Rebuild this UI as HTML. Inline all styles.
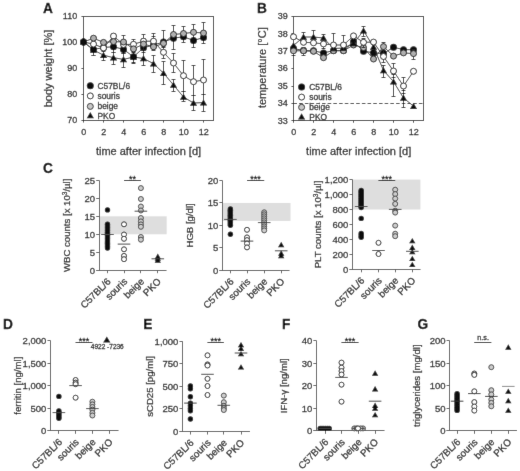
<!DOCTYPE html>
<html><head><meta charset="utf-8"><style>
html,body{margin:0;padding:0;background:#fff;}
svg{display:block;font-family:"Liberation Sans", sans-serif;}
text{stroke:#333;stroke-width:0.28px;paint-order:stroke;}
</style></head><body>
<svg width="520" height="471" viewBox="0 0 520 471">
<defs><filter id="bl" x="0" y="0" width="520" height="471" filterUnits="userSpaceOnUse"><feConvolveMatrix order="3" kernelMatrix="0.0052 0.0619 0.0052 0.0619 0.7314 0.0619 0.0052 0.0619 0.0052" edgeMode="duplicate"/></filter></defs>
<g filter="url(#bl)">
<rect width="520" height="471" fill="#fff"/>
<text transform="translate(43.00,12.80) scale(0.96,1)" font-size="14.3" font-weight="bold" fill="#000">A</text>
<rect x="83.5" y="16.5" width="130.0" height="104.0" fill="none" stroke="#333" stroke-width="1"/>
<line x1="81.50" y1="120.50" x2="83.50" y2="120.50" stroke="#333" stroke-width="1" />
<text x="77.20" y="123.30" font-size="9" text-anchor="end" font-weight="normal" fill="#222" >70</text>
<line x1="81.50" y1="94.50" x2="83.50" y2="94.50" stroke="#333" stroke-width="1" />
<text x="77.20" y="97.30" font-size="9" text-anchor="end" font-weight="normal" fill="#222" >80</text>
<line x1="81.50" y1="68.50" x2="83.50" y2="68.50" stroke="#333" stroke-width="1" />
<text x="77.20" y="71.30" font-size="9" text-anchor="end" font-weight="normal" fill="#222" >90</text>
<line x1="81.50" y1="42.50" x2="83.50" y2="42.50" stroke="#333" stroke-width="1" />
<text x="77.20" y="45.30" font-size="9" text-anchor="end" font-weight="normal" fill="#222" >100</text>
<line x1="81.50" y1="16.50" x2="83.50" y2="16.50" stroke="#333" stroke-width="1" />
<text x="77.20" y="19.30" font-size="9" text-anchor="end" font-weight="normal" fill="#222" >110</text>
<line x1="83.50" y1="120.50" x2="83.50" y2="122.50" stroke="#333" stroke-width="1" />
<line x1="103.50" y1="120.50" x2="103.50" y2="122.50" stroke="#333" stroke-width="1" />
<line x1="123.50" y1="120.50" x2="123.50" y2="122.50" stroke="#333" stroke-width="1" />
<line x1="143.50" y1="120.50" x2="143.50" y2="122.50" stroke="#333" stroke-width="1" />
<line x1="163.50" y1="120.50" x2="163.50" y2="122.50" stroke="#333" stroke-width="1" />
<line x1="183.50" y1="120.50" x2="183.50" y2="122.50" stroke="#333" stroke-width="1" />
<line x1="203.50" y1="120.50" x2="203.50" y2="122.50" stroke="#333" stroke-width="1" />
<text x="83.80" y="135.00" font-size="9" text-anchor="middle" font-weight="normal" fill="#222" >0</text>
<text x="103.80" y="135.00" font-size="9" text-anchor="middle" font-weight="normal" fill="#222" >2</text>
<text x="123.80" y="135.00" font-size="9" text-anchor="middle" font-weight="normal" fill="#222" >4</text>
<text x="143.80" y="135.00" font-size="9" text-anchor="middle" font-weight="normal" fill="#222" >6</text>
<text x="163.80" y="135.00" font-size="9" text-anchor="middle" font-weight="normal" fill="#222" >8</text>
<text x="183.80" y="135.00" font-size="9" text-anchor="middle" font-weight="normal" fill="#222" >10</text>
<text x="203.80" y="135.00" font-size="9" text-anchor="middle" font-weight="normal" fill="#222" >12</text>
<text x="148.50" y="154.60" font-size="11" text-anchor="middle" font-weight="normal" fill="#222" >time after infection [d]</text>
<text transform="translate(51.80,68.50) rotate(-90)" font-size="11" text-anchor="middle" fill="#222">body weight [%]</text>
<line x1="93.50" y1="46.00" x2="93.50" y2="55.00" stroke="#222" stroke-width="1" />
<line x1="91.60" y1="46.50" x2="95.40" y2="46.50" stroke="#222" stroke-width="1" />
<line x1="91.60" y1="55.50" x2="95.40" y2="55.50" stroke="#222" stroke-width="1" />
<line x1="103.50" y1="51.00" x2="103.50" y2="60.30" stroke="#222" stroke-width="1" />
<line x1="101.60" y1="51.50" x2="105.40" y2="51.50" stroke="#222" stroke-width="1" />
<line x1="101.60" y1="60.50" x2="105.40" y2="60.50" stroke="#222" stroke-width="1" />
<line x1="113.50" y1="52.00" x2="113.50" y2="64.50" stroke="#222" stroke-width="1" />
<line x1="111.60" y1="52.50" x2="115.40" y2="52.50" stroke="#222" stroke-width="1" />
<line x1="111.60" y1="64.50" x2="115.40" y2="64.50" stroke="#222" stroke-width="1" />
<line x1="123.50" y1="53.00" x2="123.50" y2="67.00" stroke="#222" stroke-width="1" />
<line x1="121.60" y1="53.50" x2="125.40" y2="53.50" stroke="#222" stroke-width="1" />
<line x1="121.60" y1="67.50" x2="125.40" y2="67.50" stroke="#222" stroke-width="1" />
<line x1="133.50" y1="51.00" x2="133.50" y2="62.00" stroke="#222" stroke-width="1" />
<line x1="131.60" y1="51.50" x2="135.40" y2="51.50" stroke="#222" stroke-width="1" />
<line x1="131.60" y1="62.50" x2="135.40" y2="62.50" stroke="#222" stroke-width="1" />
<line x1="143.50" y1="50.50" x2="143.50" y2="65.70" stroke="#222" stroke-width="1" />
<line x1="141.60" y1="50.50" x2="145.40" y2="50.50" stroke="#222" stroke-width="1" />
<line x1="141.60" y1="65.50" x2="145.40" y2="65.50" stroke="#222" stroke-width="1" />
<line x1="153.50" y1="55.00" x2="153.50" y2="72.80" stroke="#222" stroke-width="1" />
<line x1="151.60" y1="55.50" x2="155.40" y2="55.50" stroke="#222" stroke-width="1" />
<line x1="151.60" y1="72.50" x2="155.40" y2="72.50" stroke="#222" stroke-width="1" />
<line x1="163.50" y1="61.50" x2="163.50" y2="84.50" stroke="#222" stroke-width="1" />
<line x1="161.60" y1="61.50" x2="165.40" y2="61.50" stroke="#222" stroke-width="1" />
<line x1="161.60" y1="84.50" x2="165.40" y2="84.50" stroke="#222" stroke-width="1" />
<line x1="173.50" y1="79.50" x2="173.50" y2="91.00" stroke="#222" stroke-width="1" />
<line x1="171.60" y1="79.50" x2="175.40" y2="79.50" stroke="#222" stroke-width="1" />
<line x1="171.60" y1="91.50" x2="175.40" y2="91.50" stroke="#222" stroke-width="1" />
<line x1="183.50" y1="91.00" x2="183.50" y2="101.60" stroke="#222" stroke-width="1" />
<line x1="181.60" y1="91.50" x2="185.40" y2="91.50" stroke="#222" stroke-width="1" />
<line x1="181.60" y1="101.50" x2="185.40" y2="101.50" stroke="#222" stroke-width="1" />
<line x1="193.50" y1="95.30" x2="193.50" y2="110.60" stroke="#222" stroke-width="1" />
<line x1="191.60" y1="95.50" x2="195.40" y2="95.50" stroke="#222" stroke-width="1" />
<line x1="191.60" y1="110.50" x2="195.40" y2="110.50" stroke="#222" stroke-width="1" />
<line x1="203.50" y1="94.00" x2="203.50" y2="111.40" stroke="#222" stroke-width="1" />
<line x1="201.60" y1="94.50" x2="205.40" y2="94.50" stroke="#222" stroke-width="1" />
<line x1="201.60" y1="111.50" x2="205.40" y2="111.50" stroke="#222" stroke-width="1" />
<polyline points="83.5,42.0 93.5,50.0 103.5,55.2 113.5,57.7 123.5,59.4 133.5,57.0 143.5,58.5 153.5,63.6 163.5,73.1 173.5,85.0 183.5,97.0 193.5,103.0 203.5,102.6" fill="none" stroke="#222" stroke-width="0.9"/>
<path d="M83.50,38.53 L87.09,44.84 L79.91,44.84 Z" fill="#111"/>
<path d="M93.50,46.53 L97.09,52.84 L89.91,52.84 Z" fill="#111"/>
<path d="M103.50,51.73 L107.09,58.04 L99.91,58.04 Z" fill="#111"/>
<path d="M113.50,54.23 L117.09,60.54 L109.91,60.54 Z" fill="#111"/>
<path d="M123.50,55.93 L127.09,62.23 L119.91,62.23 Z" fill="#111"/>
<path d="M133.50,53.53 L137.09,59.84 L129.91,59.84 Z" fill="#111"/>
<path d="M143.50,55.03 L147.09,61.34 L139.91,61.34 Z" fill="#111"/>
<path d="M153.50,60.13 L157.09,66.44 L149.91,66.44 Z" fill="#111"/>
<path d="M163.50,69.63 L167.09,75.93 L159.91,75.93 Z" fill="#111"/>
<path d="M173.50,81.53 L177.09,87.83 L169.91,87.83 Z" fill="#111"/>
<path d="M183.50,93.53 L187.09,99.83 L179.91,99.83 Z" fill="#111"/>
<path d="M193.50,99.53 L197.09,105.83 L189.91,105.83 Z" fill="#111"/>
<path d="M203.50,99.13 L207.09,105.43 L199.91,105.43 Z" fill="#111"/>
<line x1="93.50" y1="45.00" x2="93.50" y2="55.00" stroke="#222" stroke-width="1" />
<line x1="91.60" y1="45.50" x2="95.40" y2="45.50" stroke="#222" stroke-width="1" />
<line x1="91.60" y1="55.50" x2="95.40" y2="55.50" stroke="#222" stroke-width="1" />
<line x1="113.50" y1="41.00" x2="113.50" y2="52.00" stroke="#222" stroke-width="1" />
<line x1="111.60" y1="41.50" x2="115.40" y2="41.50" stroke="#222" stroke-width="1" />
<line x1="111.60" y1="52.50" x2="115.40" y2="52.50" stroke="#222" stroke-width="1" />
<line x1="123.50" y1="35.80" x2="123.50" y2="53.00" stroke="#222" stroke-width="1" />
<line x1="121.60" y1="35.50" x2="125.40" y2="35.50" stroke="#222" stroke-width="1" />
<line x1="121.60" y1="53.50" x2="125.40" y2="53.50" stroke="#222" stroke-width="1" />
<line x1="133.50" y1="52.00" x2="133.50" y2="63.10" stroke="#222" stroke-width="1" />
<line x1="131.60" y1="52.50" x2="135.40" y2="52.50" stroke="#222" stroke-width="1" />
<line x1="131.60" y1="63.50" x2="135.40" y2="63.50" stroke="#222" stroke-width="1" />
<line x1="143.50" y1="34.60" x2="143.50" y2="52.00" stroke="#222" stroke-width="1" />
<line x1="141.60" y1="34.50" x2="145.40" y2="34.50" stroke="#222" stroke-width="1" />
<line x1="141.60" y1="52.50" x2="145.40" y2="52.50" stroke="#222" stroke-width="1" />
<line x1="153.50" y1="33.10" x2="153.50" y2="50.00" stroke="#222" stroke-width="1" />
<line x1="151.60" y1="33.50" x2="155.40" y2="33.50" stroke="#222" stroke-width="1" />
<line x1="151.60" y1="50.50" x2="155.40" y2="50.50" stroke="#222" stroke-width="1" />
<line x1="163.50" y1="30.30" x2="163.50" y2="47.60" stroke="#222" stroke-width="1" />
<line x1="161.60" y1="30.50" x2="165.40" y2="30.50" stroke="#222" stroke-width="1" />
<line x1="161.60" y1="47.50" x2="165.40" y2="47.50" stroke="#222" stroke-width="1" />
<line x1="173.50" y1="25.60" x2="173.50" y2="49.80" stroke="#222" stroke-width="1" />
<line x1="171.60" y1="25.50" x2="175.40" y2="25.50" stroke="#222" stroke-width="1" />
<line x1="171.60" y1="49.50" x2="175.40" y2="49.50" stroke="#222" stroke-width="1" />
<line x1="183.50" y1="26.50" x2="183.50" y2="42.20" stroke="#222" stroke-width="1" />
<line x1="181.60" y1="26.50" x2="185.40" y2="26.50" stroke="#222" stroke-width="1" />
<line x1="181.60" y1="42.50" x2="185.40" y2="42.50" stroke="#222" stroke-width="1" />
<line x1="193.50" y1="24.00" x2="193.50" y2="47.00" stroke="#222" stroke-width="1" />
<line x1="191.60" y1="24.50" x2="195.40" y2="24.50" stroke="#222" stroke-width="1" />
<line x1="191.60" y1="47.50" x2="195.40" y2="47.50" stroke="#222" stroke-width="1" />
<line x1="203.50" y1="22.50" x2="203.50" y2="43.90" stroke="#222" stroke-width="1" />
<line x1="201.60" y1="22.50" x2="205.40" y2="22.50" stroke="#222" stroke-width="1" />
<line x1="201.60" y1="43.50" x2="205.40" y2="43.50" stroke="#222" stroke-width="1" />
<polyline points="83.5,42.0 93.5,49.5 103.5,47.5 113.5,46.7 123.5,49.4 133.5,56.8 143.5,47.8 153.5,45.0 163.5,42.0 173.5,38.2 183.5,36.7 193.5,40.5 203.5,37.5" fill="none" stroke="#222" stroke-width="0.9"/>
<circle cx="83.50" cy="42.00" r="3.50" fill="#111"/>
<circle cx="93.50" cy="49.50" r="3.50" fill="#111"/>
<circle cx="103.50" cy="47.50" r="3.50" fill="#111"/>
<circle cx="113.50" cy="46.70" r="3.50" fill="#111"/>
<circle cx="123.50" cy="49.40" r="3.50" fill="#111"/>
<circle cx="133.50" cy="56.80" r="3.50" fill="#111"/>
<circle cx="143.50" cy="47.80" r="3.50" fill="#111"/>
<circle cx="153.50" cy="45.00" r="3.50" fill="#111"/>
<circle cx="163.50" cy="42.00" r="3.50" fill="#111"/>
<circle cx="173.50" cy="38.20" r="3.50" fill="#111"/>
<circle cx="183.50" cy="36.70" r="3.50" fill="#111"/>
<circle cx="193.50" cy="40.50" r="3.50" fill="#111"/>
<circle cx="203.50" cy="37.50" r="3.50" fill="#111"/>
<line x1="113.50" y1="33.00" x2="113.50" y2="41.00" stroke="#222" stroke-width="1" />
<line x1="111.60" y1="33.50" x2="115.40" y2="33.50" stroke="#222" stroke-width="1" />
<line x1="111.60" y1="41.50" x2="115.40" y2="41.50" stroke="#222" stroke-width="1" />
<line x1="133.50" y1="39.20" x2="133.50" y2="49.00" stroke="#222" stroke-width="1" />
<line x1="131.60" y1="39.50" x2="135.40" y2="39.50" stroke="#222" stroke-width="1" />
<line x1="131.60" y1="49.50" x2="135.40" y2="49.50" stroke="#222" stroke-width="1" />
<line x1="143.50" y1="38.00" x2="143.50" y2="49.00" stroke="#222" stroke-width="1" />
<line x1="141.60" y1="38.50" x2="145.40" y2="38.50" stroke="#222" stroke-width="1" />
<line x1="141.60" y1="49.50" x2="145.40" y2="49.50" stroke="#222" stroke-width="1" />
<line x1="153.50" y1="36.00" x2="153.50" y2="47.00" stroke="#222" stroke-width="1" />
<line x1="151.60" y1="36.50" x2="155.40" y2="36.50" stroke="#222" stroke-width="1" />
<line x1="151.60" y1="47.50" x2="155.40" y2="47.50" stroke="#222" stroke-width="1" />
<line x1="163.50" y1="46.00" x2="163.50" y2="58.50" stroke="#222" stroke-width="1" />
<line x1="161.60" y1="46.50" x2="165.40" y2="46.50" stroke="#222" stroke-width="1" />
<line x1="161.60" y1="58.50" x2="165.40" y2="58.50" stroke="#222" stroke-width="1" />
<line x1="173.50" y1="53.30" x2="173.50" y2="72.30" stroke="#222" stroke-width="1" />
<line x1="171.60" y1="53.50" x2="175.40" y2="53.50" stroke="#222" stroke-width="1" />
<line x1="171.60" y1="72.50" x2="175.40" y2="72.50" stroke="#222" stroke-width="1" />
<line x1="183.50" y1="60.70" x2="183.50" y2="91.00" stroke="#222" stroke-width="1" />
<line x1="181.60" y1="60.50" x2="185.40" y2="60.50" stroke="#222" stroke-width="1" />
<line x1="181.60" y1="91.50" x2="185.40" y2="91.50" stroke="#222" stroke-width="1" />
<line x1="193.50" y1="65.50" x2="193.50" y2="95.30" stroke="#222" stroke-width="1" />
<line x1="191.60" y1="65.50" x2="195.40" y2="65.50" stroke="#222" stroke-width="1" />
<line x1="191.60" y1="95.50" x2="195.40" y2="95.50" stroke="#222" stroke-width="1" />
<line x1="203.50" y1="59.60" x2="203.50" y2="94.00" stroke="#222" stroke-width="1" />
<line x1="201.60" y1="59.50" x2="205.40" y2="59.50" stroke="#222" stroke-width="1" />
<line x1="201.60" y1="94.50" x2="205.40" y2="94.50" stroke="#222" stroke-width="1" />
<polyline points="83.5,42.0 93.5,44.1 103.5,48.0 113.5,36.1 123.5,44.5 133.5,44.3 143.5,41.2 153.5,41.2 163.5,52.3 173.5,63.0 183.5,75.7 193.5,81.7 203.5,80.0" fill="none" stroke="#222" stroke-width="0.9"/>
<circle cx="83.50" cy="42.00" r="3.00" fill="#fff" stroke="#222" stroke-width="1"/>
<circle cx="93.50" cy="44.10" r="3.00" fill="#fff" stroke="#222" stroke-width="1"/>
<circle cx="103.50" cy="48.00" r="3.00" fill="#fff" stroke="#222" stroke-width="1"/>
<circle cx="113.50" cy="36.10" r="3.00" fill="#fff" stroke="#222" stroke-width="1"/>
<circle cx="123.50" cy="44.50" r="3.00" fill="#fff" stroke="#222" stroke-width="1"/>
<circle cx="133.50" cy="44.30" r="3.00" fill="#fff" stroke="#222" stroke-width="1"/>
<circle cx="143.50" cy="41.20" r="3.00" fill="#fff" stroke="#222" stroke-width="1"/>
<circle cx="153.50" cy="41.20" r="3.00" fill="#fff" stroke="#222" stroke-width="1"/>
<circle cx="163.50" cy="52.30" r="3.00" fill="#fff" stroke="#222" stroke-width="1"/>
<circle cx="173.50" cy="63.00" r="3.00" fill="#fff" stroke="#222" stroke-width="1"/>
<circle cx="183.50" cy="75.70" r="3.00" fill="#fff" stroke="#222" stroke-width="1"/>
<circle cx="193.50" cy="81.70" r="3.00" fill="#fff" stroke="#222" stroke-width="1"/>
<circle cx="203.50" cy="80.00" r="3.00" fill="#fff" stroke="#222" stroke-width="1"/>
<polyline points="83.5,42.0 93.5,38.2 103.5,42.4 113.5,41.6 123.5,42.0 133.5,48.9 143.5,44.1 153.5,46.8 163.5,43.4 173.5,34.5 183.5,33.5 193.5,32.3 203.5,33.0" fill="none" stroke="#222" stroke-width="0.9"/>
<circle cx="83.50" cy="42.00" r="3.00" fill="#b0b0b0" stroke="#222" stroke-width="1"/>
<circle cx="93.50" cy="38.20" r="3.00" fill="#b0b0b0" stroke="#222" stroke-width="1"/>
<circle cx="103.50" cy="42.40" r="3.00" fill="#b0b0b0" stroke="#222" stroke-width="1"/>
<circle cx="113.50" cy="41.60" r="3.00" fill="#b0b0b0" stroke="#222" stroke-width="1"/>
<circle cx="123.50" cy="42.00" r="3.00" fill="#b0b0b0" stroke="#222" stroke-width="1"/>
<circle cx="133.50" cy="48.90" r="3.00" fill="#b0b0b0" stroke="#222" stroke-width="1"/>
<circle cx="143.50" cy="44.10" r="3.00" fill="#b0b0b0" stroke="#222" stroke-width="1"/>
<circle cx="153.50" cy="46.80" r="3.00" fill="#b0b0b0" stroke="#222" stroke-width="1"/>
<circle cx="163.50" cy="43.40" r="3.00" fill="#b0b0b0" stroke="#222" stroke-width="1"/>
<circle cx="173.50" cy="34.50" r="3.00" fill="#b0b0b0" stroke="#222" stroke-width="1"/>
<circle cx="183.50" cy="33.50" r="3.00" fill="#b0b0b0" stroke="#222" stroke-width="1"/>
<circle cx="193.50" cy="32.30" r="3.00" fill="#b0b0b0" stroke="#222" stroke-width="1"/>
<circle cx="203.50" cy="33.00" r="3.00" fill="#b0b0b0" stroke="#222" stroke-width="1"/>
<circle cx="83.50" cy="42.00" r="3.50" fill="#111"/>
<circle cx="90.30" cy="85.80" r="3.50" fill="#111"/>
<text x="97.50" y="88.80" font-size="8.4" text-anchor="start" font-weight="normal" fill="#222" >C57BL/6</text>
<circle cx="90.30" cy="95.90" r="3.00" fill="#fff" stroke="#222" stroke-width="1"/>
<text x="97.50" y="98.90" font-size="8.4" text-anchor="start" font-weight="normal" fill="#222" >souris</text>
<circle cx="90.30" cy="106.40" r="3.00" fill="#c8c8c8" stroke="#333" stroke-width="1"/>
<text x="97.50" y="109.40" font-size="8.4" text-anchor="start" font-weight="normal" fill="#222" >beige</text>
<path d="M90.30,112.03 L93.89,118.33 L86.71,118.33 Z" fill="#111"/>
<text x="97.50" y="118.50" font-size="8.4" text-anchor="start" font-weight="normal" fill="#222" >PKO</text>
<text transform="translate(257.00,12.80) scale(0.96,1)" font-size="14.3" font-weight="bold" fill="#000">B</text>
<rect x="293.5" y="16.5" width="130.0" height="104.0" fill="none" stroke="#333" stroke-width="1"/>
<line x1="291.50" y1="120.50" x2="293.50" y2="120.50" stroke="#333" stroke-width="1" />
<text x="287.70" y="123.50" font-size="9" text-anchor="end" font-weight="normal" fill="#222" >33</text>
<line x1="291.50" y1="103.50" x2="293.50" y2="103.50" stroke="#333" stroke-width="1" />
<text x="287.70" y="106.15" font-size="9" text-anchor="end" font-weight="normal" fill="#222" >34</text>
<line x1="291.50" y1="86.50" x2="293.50" y2="86.50" stroke="#333" stroke-width="1" />
<text x="287.70" y="88.80" font-size="9" text-anchor="end" font-weight="normal" fill="#222" >35</text>
<line x1="291.50" y1="68.50" x2="293.50" y2="68.50" stroke="#333" stroke-width="1" />
<text x="287.70" y="71.45" font-size="9" text-anchor="end" font-weight="normal" fill="#222" >36</text>
<line x1="291.50" y1="51.50" x2="293.50" y2="51.50" stroke="#333" stroke-width="1" />
<text x="287.70" y="54.10" font-size="9" text-anchor="end" font-weight="normal" fill="#222" >37</text>
<line x1="291.50" y1="33.50" x2="293.50" y2="33.50" stroke="#333" stroke-width="1" />
<text x="287.70" y="36.75" font-size="9" text-anchor="end" font-weight="normal" fill="#222" >38</text>
<line x1="291.50" y1="16.50" x2="293.50" y2="16.50" stroke="#333" stroke-width="1" />
<text x="287.70" y="19.40" font-size="9" text-anchor="end" font-weight="normal" fill="#222" >39</text>
<line x1="293.50" y1="120.70" x2="293.50" y2="122.70" stroke="#333" stroke-width="1" />
<line x1="313.50" y1="120.70" x2="313.50" y2="122.70" stroke="#333" stroke-width="1" />
<line x1="333.50" y1="120.70" x2="333.50" y2="122.70" stroke="#333" stroke-width="1" />
<line x1="353.50" y1="120.70" x2="353.50" y2="122.70" stroke="#333" stroke-width="1" />
<line x1="373.50" y1="120.70" x2="373.50" y2="122.70" stroke="#333" stroke-width="1" />
<line x1="393.50" y1="120.70" x2="393.50" y2="122.70" stroke="#333" stroke-width="1" />
<line x1="413.50" y1="120.70" x2="413.50" y2="122.70" stroke="#333" stroke-width="1" />
<text x="293.80" y="135.20" font-size="9" text-anchor="middle" font-weight="normal" fill="#222" >0</text>
<text x="313.80" y="135.20" font-size="9" text-anchor="middle" font-weight="normal" fill="#222" >2</text>
<text x="333.80" y="135.20" font-size="9" text-anchor="middle" font-weight="normal" fill="#222" >4</text>
<text x="353.80" y="135.20" font-size="9" text-anchor="middle" font-weight="normal" fill="#222" >6</text>
<text x="373.80" y="135.20" font-size="9" text-anchor="middle" font-weight="normal" fill="#222" >8</text>
<text x="393.80" y="135.20" font-size="9" text-anchor="middle" font-weight="normal" fill="#222" >10</text>
<text x="413.80" y="135.20" font-size="9" text-anchor="middle" font-weight="normal" fill="#222" >12</text>
<text x="358.70" y="154.70" font-size="11" text-anchor="middle" font-weight="normal" fill="#222" >time after infection [d]</text>
<text transform="translate(266.30,67.70) rotate(-90)" font-size="11" text-anchor="middle" fill="#222">temperature [°C]</text>
<line x1="293.50" y1="103.50" x2="423.50" y2="103.50" stroke="#333" stroke-width="1" stroke-dasharray="3.5,2.2"/>
<polyline points="293.5,48.5 303.5,50.5 313.5,50.8 323.5,53.0 333.5,50.5 343.5,50.5 353.5,41.8 363.5,51.3 373.5,52.7 383.5,53.6 393.5,47.2 403.5,49.7 413.5,49.7" fill="none" stroke="#222" stroke-width="0.9"/>
<circle cx="293.50" cy="48.50" r="3.50" fill="#111"/>
<circle cx="303.50" cy="50.50" r="3.50" fill="#111"/>
<circle cx="313.50" cy="50.80" r="3.50" fill="#111"/>
<circle cx="323.50" cy="53.00" r="3.50" fill="#111"/>
<circle cx="333.50" cy="50.50" r="3.50" fill="#111"/>
<circle cx="343.50" cy="50.50" r="3.50" fill="#111"/>
<circle cx="353.50" cy="41.80" r="3.50" fill="#111"/>
<circle cx="363.50" cy="51.30" r="3.50" fill="#111"/>
<circle cx="373.50" cy="52.70" r="3.50" fill="#111"/>
<circle cx="383.50" cy="53.60" r="3.50" fill="#111"/>
<circle cx="393.50" cy="47.20" r="3.50" fill="#111"/>
<circle cx="403.50" cy="49.70" r="3.50" fill="#111"/>
<circle cx="413.50" cy="49.70" r="3.50" fill="#111"/>
<line x1="293.50" y1="47.00" x2="293.50" y2="55.70" stroke="#222" stroke-width="1" />
<line x1="291.60" y1="47.50" x2="295.40" y2="47.50" stroke="#222" stroke-width="1" />
<line x1="291.60" y1="55.50" x2="295.40" y2="55.50" stroke="#222" stroke-width="1" />
<line x1="303.50" y1="47.00" x2="303.50" y2="55.20" stroke="#222" stroke-width="1" />
<line x1="301.60" y1="47.50" x2="305.40" y2="47.50" stroke="#222" stroke-width="1" />
<line x1="301.60" y1="55.50" x2="305.40" y2="55.50" stroke="#222" stroke-width="1" />
<line x1="383.50" y1="42.70" x2="383.50" y2="50.00" stroke="#222" stroke-width="1" />
<line x1="381.60" y1="42.50" x2="385.40" y2="42.50" stroke="#222" stroke-width="1" />
<line x1="381.60" y1="50.50" x2="385.40" y2="50.50" stroke="#222" stroke-width="1" />
<line x1="413.50" y1="49.00" x2="413.50" y2="59.00" stroke="#222" stroke-width="1" />
<line x1="411.60" y1="49.50" x2="415.40" y2="49.50" stroke="#222" stroke-width="1" />
<line x1="411.60" y1="59.50" x2="415.40" y2="59.50" stroke="#222" stroke-width="1" />
<polyline points="293.5,50.8 303.5,50.8 313.5,51.3 323.5,57.7 333.5,50.8 343.5,50.8 353.5,45.0 363.5,47.6 373.5,59.0 383.5,46.6 393.5,56.1 403.5,52.9 413.5,53.6" fill="none" stroke="#222" stroke-width="0.9"/>
<circle cx="293.50" cy="50.80" r="3.00" fill="#b0b0b0" stroke="#222" stroke-width="1"/>
<circle cx="303.50" cy="50.80" r="3.00" fill="#b0b0b0" stroke="#222" stroke-width="1"/>
<circle cx="313.50" cy="51.30" r="3.00" fill="#b0b0b0" stroke="#222" stroke-width="1"/>
<circle cx="323.50" cy="57.70" r="3.00" fill="#b0b0b0" stroke="#222" stroke-width="1"/>
<circle cx="333.50" cy="50.80" r="3.00" fill="#b0b0b0" stroke="#222" stroke-width="1"/>
<circle cx="343.50" cy="50.80" r="3.00" fill="#b0b0b0" stroke="#222" stroke-width="1"/>
<circle cx="353.50" cy="45.00" r="3.00" fill="#b0b0b0" stroke="#222" stroke-width="1"/>
<circle cx="363.50" cy="47.60" r="3.00" fill="#b0b0b0" stroke="#222" stroke-width="1"/>
<circle cx="373.50" cy="59.00" r="3.00" fill="#b0b0b0" stroke="#222" stroke-width="1"/>
<circle cx="383.50" cy="46.60" r="3.00" fill="#b0b0b0" stroke="#222" stroke-width="1"/>
<circle cx="393.50" cy="56.10" r="3.00" fill="#b0b0b0" stroke="#222" stroke-width="1"/>
<circle cx="403.50" cy="52.90" r="3.00" fill="#b0b0b0" stroke="#222" stroke-width="1"/>
<circle cx="413.50" cy="53.60" r="3.00" fill="#b0b0b0" stroke="#222" stroke-width="1"/>
<line x1="303.50" y1="32.20" x2="303.50" y2="41.00" stroke="#222" stroke-width="1" />
<line x1="301.60" y1="32.50" x2="305.40" y2="32.50" stroke="#222" stroke-width="1" />
<line x1="301.60" y1="41.50" x2="305.40" y2="41.50" stroke="#222" stroke-width="1" />
<line x1="313.50" y1="30.60" x2="313.50" y2="41.00" stroke="#222" stroke-width="1" />
<line x1="311.60" y1="30.50" x2="315.40" y2="30.50" stroke="#222" stroke-width="1" />
<line x1="311.60" y1="41.50" x2="315.40" y2="41.50" stroke="#222" stroke-width="1" />
<line x1="323.50" y1="34.00" x2="323.50" y2="44.00" stroke="#222" stroke-width="1" />
<line x1="321.60" y1="34.50" x2="325.40" y2="34.50" stroke="#222" stroke-width="1" />
<line x1="321.60" y1="44.50" x2="325.40" y2="44.50" stroke="#222" stroke-width="1" />
<line x1="363.50" y1="26.40" x2="363.50" y2="36.00" stroke="#222" stroke-width="1" />
<line x1="361.60" y1="26.50" x2="365.40" y2="26.50" stroke="#222" stroke-width="1" />
<line x1="361.60" y1="36.50" x2="365.40" y2="36.50" stroke="#222" stroke-width="1" />
<line x1="383.50" y1="65.10" x2="383.50" y2="77.20" stroke="#222" stroke-width="1" />
<line x1="381.60" y1="65.50" x2="385.40" y2="65.50" stroke="#222" stroke-width="1" />
<line x1="381.60" y1="77.50" x2="385.40" y2="77.50" stroke="#222" stroke-width="1" />
<line x1="393.50" y1="74.00" x2="393.50" y2="96.30" stroke="#222" stroke-width="1" />
<line x1="391.60" y1="74.50" x2="395.40" y2="74.50" stroke="#222" stroke-width="1" />
<line x1="391.60" y1="96.50" x2="395.40" y2="96.50" stroke="#222" stroke-width="1" />
<line x1="403.50" y1="90.00" x2="403.50" y2="107.10" stroke="#222" stroke-width="1" />
<line x1="401.60" y1="90.50" x2="405.40" y2="90.50" stroke="#222" stroke-width="1" />
<line x1="401.60" y1="107.50" x2="405.40" y2="107.50" stroke="#222" stroke-width="1" />
<polyline points="293.5,45.5 303.5,37.0 313.5,37.0 323.5,38.0 333.5,48.5 343.5,48.0 353.5,43.5 363.5,30.6 373.5,47.0 383.5,70.4 393.5,81.7 403.5,98.0 413.5,106.1" fill="none" stroke="#222" stroke-width="0.9"/>
<path d="M293.50,42.03 L297.09,48.34 L289.91,48.34 Z" fill="#111"/>
<path d="M303.50,33.53 L307.09,39.84 L299.91,39.84 Z" fill="#111"/>
<path d="M313.50,33.53 L317.09,39.84 L309.91,39.84 Z" fill="#111"/>
<path d="M323.50,34.53 L327.09,40.84 L319.91,40.84 Z" fill="#111"/>
<path d="M333.50,45.03 L337.09,51.34 L329.91,51.34 Z" fill="#111"/>
<path d="M343.50,44.53 L347.09,50.84 L339.91,50.84 Z" fill="#111"/>
<path d="M353.50,40.03 L357.09,46.34 L349.91,46.34 Z" fill="#111"/>
<path d="M363.50,27.14 L367.09,33.44 L359.91,33.44 Z" fill="#111"/>
<path d="M373.50,43.53 L377.09,49.84 L369.91,49.84 Z" fill="#111"/>
<path d="M383.50,66.94 L387.09,73.23 L379.91,73.23 Z" fill="#111"/>
<path d="M393.50,78.23 L397.09,84.53 L389.91,84.53 Z" fill="#111"/>
<path d="M403.50,94.53 L407.09,100.83 L399.91,100.83 Z" fill="#111"/>
<path d="M413.50,102.63 L417.09,108.93 L409.91,108.93 Z" fill="#111"/>
<line x1="323.50" y1="39.00" x2="323.50" y2="48.70" stroke="#222" stroke-width="1" />
<line x1="321.60" y1="39.50" x2="325.40" y2="39.50" stroke="#222" stroke-width="1" />
<line x1="321.60" y1="48.50" x2="325.40" y2="48.50" stroke="#222" stroke-width="1" />
<line x1="333.50" y1="33.30" x2="333.50" y2="50.00" stroke="#222" stroke-width="1" />
<line x1="331.60" y1="33.50" x2="335.40" y2="33.50" stroke="#222" stroke-width="1" />
<line x1="331.60" y1="50.50" x2="335.40" y2="50.50" stroke="#222" stroke-width="1" />
<line x1="343.50" y1="35.90" x2="343.50" y2="50.00" stroke="#222" stroke-width="1" />
<line x1="341.60" y1="35.50" x2="345.40" y2="35.50" stroke="#222" stroke-width="1" />
<line x1="341.60" y1="50.50" x2="345.40" y2="50.50" stroke="#222" stroke-width="1" />
<line x1="363.50" y1="38.00" x2="363.50" y2="47.00" stroke="#222" stroke-width="1" />
<line x1="361.60" y1="38.50" x2="365.40" y2="38.50" stroke="#222" stroke-width="1" />
<line x1="361.60" y1="47.50" x2="365.40" y2="47.50" stroke="#222" stroke-width="1" />
<line x1="383.50" y1="50.00" x2="383.50" y2="62.00" stroke="#222" stroke-width="1" />
<line x1="381.60" y1="50.50" x2="385.40" y2="50.50" stroke="#222" stroke-width="1" />
<line x1="381.60" y1="62.50" x2="385.40" y2="62.50" stroke="#222" stroke-width="1" />
<line x1="393.50" y1="63.80" x2="393.50" y2="77.00" stroke="#222" stroke-width="1" />
<line x1="391.60" y1="63.50" x2="395.40" y2="63.50" stroke="#222" stroke-width="1" />
<line x1="391.60" y1="77.50" x2="395.40" y2="77.50" stroke="#222" stroke-width="1" />
<line x1="403.50" y1="77.80" x2="403.50" y2="93.10" stroke="#222" stroke-width="1" />
<line x1="401.60" y1="77.50" x2="405.40" y2="77.50" stroke="#222" stroke-width="1" />
<line x1="401.60" y1="93.50" x2="405.40" y2="93.50" stroke="#222" stroke-width="1" />
<polyline points="293.5,36.8 303.5,42.3 313.5,42.8 323.5,43.9 333.5,45.0 343.5,45.0 353.5,35.9 363.5,42.3 373.5,42.1 383.5,56.5 393.5,71.0 403.5,86.0 413.5,71.3" fill="none" stroke="#222" stroke-width="0.9"/>
<circle cx="293.50" cy="36.80" r="3.00" fill="#fff" stroke="#222" stroke-width="1"/>
<circle cx="303.50" cy="42.30" r="3.00" fill="#fff" stroke="#222" stroke-width="1"/>
<circle cx="313.50" cy="42.80" r="3.00" fill="#fff" stroke="#222" stroke-width="1"/>
<circle cx="323.50" cy="43.90" r="3.00" fill="#fff" stroke="#222" stroke-width="1"/>
<circle cx="333.50" cy="45.00" r="3.00" fill="#fff" stroke="#222" stroke-width="1"/>
<circle cx="343.50" cy="45.00" r="3.00" fill="#fff" stroke="#222" stroke-width="1"/>
<circle cx="353.50" cy="35.90" r="3.00" fill="#fff" stroke="#222" stroke-width="1"/>
<circle cx="363.50" cy="42.30" r="3.00" fill="#fff" stroke="#222" stroke-width="1"/>
<circle cx="373.50" cy="42.10" r="3.00" fill="#fff" stroke="#222" stroke-width="1"/>
<circle cx="383.50" cy="56.50" r="3.00" fill="#fff" stroke="#222" stroke-width="1"/>
<circle cx="393.50" cy="71.00" r="3.00" fill="#fff" stroke="#222" stroke-width="1"/>
<circle cx="403.50" cy="86.00" r="3.00" fill="#fff" stroke="#222" stroke-width="1"/>
<circle cx="413.50" cy="71.30" r="3.00" fill="#fff" stroke="#222" stroke-width="1"/>
<circle cx="301.60" cy="87.10" r="3.50" fill="#111"/>
<text x="309.30" y="90.10" font-size="8.4" text-anchor="start" font-weight="normal" fill="#222" >C57BL/6</text>
<circle cx="301.60" cy="97.10" r="3.00" fill="#fff" stroke="#222" stroke-width="1"/>
<text x="309.30" y="100.10" font-size="8.4" text-anchor="start" font-weight="normal" fill="#222" >souris</text>
<circle cx="301.60" cy="107.30" r="3.00" fill="#c8c8c8" stroke="#333" stroke-width="1"/>
<text x="309.30" y="110.30" font-size="8.4" text-anchor="start" font-weight="normal" fill="#222" >beige</text>
<path d="M301.60,113.23 L305.19,119.53 L298.01,119.53 Z" fill="#111"/>
<text x="309.30" y="119.70" font-size="8.4" text-anchor="start" font-weight="normal" fill="#222" >PKO</text>
<text transform="translate(43.00,172.50) scale(0.96,1)" font-size="14.3" font-weight="bold" fill="#000">C</text>
<rect x="100.00" y="216.32" width="66.70" height="17.96" fill="#dedede"/>
<line x1="99.50" y1="180.40" x2="99.50" y2="270.20" stroke="#555" stroke-width="1" />
<line x1="96.20" y1="270.50" x2="166.50" y2="270.50" stroke="#555" stroke-width="1" />
<line x1="96.20" y1="270.50" x2="99.20" y2="270.50" stroke="#555" stroke-width="1" />
<text x="95.10" y="273.60" font-size="9.5" text-anchor="end" font-weight="normal" fill="#222" >0</text>
<line x1="96.20" y1="252.50" x2="99.20" y2="252.50" stroke="#555" stroke-width="1" />
<text x="95.10" y="255.64" font-size="9.5" text-anchor="end" font-weight="normal" fill="#222" >5</text>
<line x1="96.20" y1="234.50" x2="99.20" y2="234.50" stroke="#555" stroke-width="1" />
<text x="95.10" y="237.68" font-size="9.5" text-anchor="end" font-weight="normal" fill="#222" >10</text>
<line x1="96.20" y1="216.50" x2="99.20" y2="216.50" stroke="#555" stroke-width="1" />
<text x="95.10" y="219.72" font-size="9.5" text-anchor="end" font-weight="normal" fill="#222" >15</text>
<line x1="96.20" y1="198.50" x2="99.20" y2="198.50" stroke="#555" stroke-width="1" />
<text x="95.10" y="201.76" font-size="9.5" text-anchor="end" font-weight="normal" fill="#222" >20</text>
<line x1="96.20" y1="180.50" x2="99.20" y2="180.50" stroke="#555" stroke-width="1" />
<text x="95.10" y="183.80" font-size="9.5" text-anchor="end" font-weight="normal" fill="#222" >25</text>
<line x1="107.50" y1="270.20" x2="107.50" y2="273.20" stroke="#555" stroke-width="1" />
<line x1="124.50" y1="270.20" x2="124.50" y2="273.20" stroke="#555" stroke-width="1" />
<line x1="140.50" y1="270.20" x2="140.50" y2="273.20" stroke="#555" stroke-width="1" />
<line x1="157.50" y1="270.20" x2="157.50" y2="273.20" stroke="#555" stroke-width="1" />
<text transform="translate(111.40,282.10) rotate(-45)" font-size="9.8" text-anchor="end" fill="#222">C57BL/6</text>
<text transform="translate(127.90,282.10) rotate(-45)" font-size="9.8" text-anchor="end" fill="#222">souris</text>
<text transform="translate(144.80,282.10) rotate(-45)" font-size="9.8" text-anchor="end" fill="#222">beige</text>
<text transform="translate(161.70,282.10) rotate(-45)" font-size="9.8" text-anchor="end" fill="#222">PKO</text>
<text transform="translate(69.90,225.30) rotate(-90)" font-size="9.6" text-anchor="middle" fill="#222">WBC counts [x 10<tspan baseline-shift="super" font-size="6.5">3</tspan>/µl]</text>
<circle cx="107.50" cy="209.90" r="2.70" fill="#111"/>
<circle cx="107.50" cy="224.30" r="2.70" fill="#111"/>
<circle cx="107.50" cy="225.88" r="2.70" fill="#111"/>
<circle cx="107.50" cy="227.46" r="2.70" fill="#111"/>
<circle cx="107.50" cy="229.04" r="2.70" fill="#111"/>
<circle cx="107.50" cy="230.62" r="2.70" fill="#111"/>
<circle cx="107.50" cy="232.20" r="2.70" fill="#111"/>
<circle cx="107.50" cy="233.78" r="2.70" fill="#111"/>
<circle cx="107.50" cy="235.36" r="2.70" fill="#111"/>
<circle cx="107.50" cy="236.94" r="2.70" fill="#111"/>
<circle cx="107.50" cy="238.52" r="2.70" fill="#111"/>
<circle cx="107.50" cy="240.10" r="2.70" fill="#111"/>
<circle cx="107.50" cy="241.68" r="2.70" fill="#111"/>
<circle cx="107.50" cy="243.26" r="2.70" fill="#111"/>
<circle cx="107.50" cy="244.84" r="2.70" fill="#111"/>
<circle cx="107.50" cy="246.42" r="2.70" fill="#111"/>
<circle cx="107.50" cy="248.00" r="2.70" fill="#111"/>
<circle cx="124.00" cy="224.30" r="2.50" fill="#fff" stroke="#222" stroke-width="1"/>
<circle cx="124.00" cy="234.50" r="2.50" fill="#fff" stroke="#222" stroke-width="1"/>
<circle cx="124.00" cy="238.80" r="2.50" fill="#fff" stroke="#222" stroke-width="1"/>
<circle cx="124.00" cy="249.30" r="2.50" fill="#fff" stroke="#222" stroke-width="1"/>
<circle cx="124.00" cy="255.90" r="2.50" fill="#fff" stroke="#222" stroke-width="1"/>
<circle cx="124.00" cy="259.20" r="2.50" fill="#fff" stroke="#222" stroke-width="1"/>
<circle cx="140.90" cy="188.10" r="2.50" fill="#cdcdcd" stroke="#444" stroke-width="1"/>
<circle cx="140.90" cy="199.00" r="2.50" fill="#cdcdcd" stroke="#444" stroke-width="1"/>
<circle cx="140.90" cy="206.50" r="2.50" fill="#cdcdcd" stroke="#444" stroke-width="1"/>
<circle cx="140.90" cy="210.50" r="2.50" fill="#cdcdcd" stroke="#444" stroke-width="1"/>
<circle cx="140.90" cy="218.00" r="2.50" fill="#cdcdcd" stroke="#444" stroke-width="1"/>
<circle cx="140.90" cy="221.40" r="2.50" fill="#cdcdcd" stroke="#444" stroke-width="1"/>
<circle cx="140.90" cy="224.40" r="2.50" fill="#cdcdcd" stroke="#444" stroke-width="1"/>
<circle cx="140.90" cy="226.80" r="2.50" fill="#cdcdcd" stroke="#444" stroke-width="1"/>
<circle cx="140.90" cy="237.00" r="2.50" fill="#cdcdcd" stroke="#444" stroke-width="1"/>
<circle cx="140.90" cy="239.70" r="2.50" fill="#cdcdcd" stroke="#444" stroke-width="1"/>
<path d="M157.80,253.53 L160.95,258.93 L154.65,258.93 Z" fill="#111"/>
<path d="M157.80,255.33 L160.95,260.73 L154.65,260.73 Z" fill="#111"/>
<path d="M157.80,257.33 L160.95,262.73 L154.65,262.73 Z" fill="#111"/>
<line x1="101.20" y1="234.50" x2="113.80" y2="234.50" stroke="#444" stroke-width="1" />
<line x1="117.70" y1="244.10" x2="130.30" y2="244.10" stroke="#444" stroke-width="1" />
<line x1="134.60" y1="211.20" x2="147.20" y2="211.20" stroke="#444" stroke-width="1" />
<line x1="151.50" y1="258.80" x2="164.10" y2="258.80" stroke="#444" stroke-width="1" />
<line x1="124.00" y1="180.50" x2="140.90" y2="180.50" stroke="#111" stroke-width="1" />
<text x="132.45" y="181.90" font-size="9" text-anchor="middle" font-weight="normal" fill="#111" >**</text>
<rect x="223.00" y="202.95" width="67.50" height="17.96" fill="#dedede"/>
<line x1="222.50" y1="180.50" x2="222.50" y2="270.30" stroke="#555" stroke-width="1" />
<line x1="219.40" y1="270.50" x2="289.50" y2="270.50" stroke="#555" stroke-width="1" />
<line x1="219.40" y1="270.50" x2="222.40" y2="270.50" stroke="#555" stroke-width="1" />
<text x="218.30" y="273.70" font-size="9.5" text-anchor="end" font-weight="normal" fill="#222" >0</text>
<line x1="219.40" y1="247.50" x2="222.40" y2="247.50" stroke="#555" stroke-width="1" />
<text x="218.30" y="251.25" font-size="9.5" text-anchor="end" font-weight="normal" fill="#222" >5</text>
<line x1="219.40" y1="225.50" x2="222.40" y2="225.50" stroke="#555" stroke-width="1" />
<text x="218.30" y="228.80" font-size="9.5" text-anchor="end" font-weight="normal" fill="#222" >10</text>
<line x1="219.40" y1="202.50" x2="222.40" y2="202.50" stroke="#555" stroke-width="1" />
<text x="218.30" y="206.35" font-size="9.5" text-anchor="end" font-weight="normal" fill="#222" >15</text>
<line x1="219.40" y1="180.50" x2="222.40" y2="180.50" stroke="#555" stroke-width="1" />
<text x="218.30" y="183.90" font-size="9.5" text-anchor="end" font-weight="normal" fill="#222" >20</text>
<line x1="230.50" y1="270.30" x2="230.50" y2="273.30" stroke="#555" stroke-width="1" />
<line x1="247.50" y1="270.30" x2="247.50" y2="273.30" stroke="#555" stroke-width="1" />
<line x1="264.50" y1="270.30" x2="264.50" y2="273.30" stroke="#555" stroke-width="1" />
<line x1="281.50" y1="270.30" x2="281.50" y2="273.30" stroke="#555" stroke-width="1" />
<text transform="translate(234.30,282.20) rotate(-45)" font-size="9.8" text-anchor="end" fill="#222">C57BL/6</text>
<text transform="translate(250.90,282.20) rotate(-45)" font-size="9.8" text-anchor="end" fill="#222">souris</text>
<text transform="translate(268.10,282.20) rotate(-45)" font-size="9.8" text-anchor="end" fill="#222">beige</text>
<text transform="translate(285.10,282.20) rotate(-45)" font-size="9.8" text-anchor="end" fill="#222">PKO</text>
<text transform="translate(193.00,225.40) rotate(-90)" font-size="9.6" text-anchor="middle" fill="#222">HGB [g/dl]</text>
<circle cx="230.40" cy="208.90" r="2.70" fill="#111"/>
<circle cx="230.40" cy="210.16" r="2.70" fill="#111"/>
<circle cx="230.40" cy="211.42" r="2.70" fill="#111"/>
<circle cx="230.40" cy="212.68" r="2.70" fill="#111"/>
<circle cx="230.40" cy="213.95" r="2.70" fill="#111"/>
<circle cx="230.40" cy="215.21" r="2.70" fill="#111"/>
<circle cx="230.40" cy="216.47" r="2.70" fill="#111"/>
<circle cx="230.40" cy="217.73" r="2.70" fill="#111"/>
<circle cx="230.40" cy="218.99" r="2.70" fill="#111"/>
<circle cx="230.40" cy="220.25" r="2.70" fill="#111"/>
<circle cx="230.40" cy="221.52" r="2.70" fill="#111"/>
<circle cx="230.40" cy="222.78" r="2.70" fill="#111"/>
<circle cx="230.40" cy="224.04" r="2.70" fill="#111"/>
<circle cx="230.40" cy="225.30" r="2.70" fill="#111"/>
<circle cx="230.40" cy="234.30" r="2.70" fill="#111"/>
<circle cx="247.00" cy="229.80" r="2.50" fill="#fff" stroke="#222" stroke-width="1"/>
<circle cx="247.00" cy="237.40" r="2.50" fill="#fff" stroke="#222" stroke-width="1"/>
<circle cx="247.00" cy="240.10" r="2.50" fill="#fff" stroke="#222" stroke-width="1"/>
<circle cx="247.00" cy="243.50" r="2.50" fill="#fff" stroke="#222" stroke-width="1"/>
<circle cx="247.00" cy="247.40" r="2.50" fill="#fff" stroke="#222" stroke-width="1"/>
<circle cx="264.20" cy="212.30" r="2.50" fill="#cdcdcd" stroke="#444" stroke-width="1"/>
<circle cx="264.20" cy="214.31" r="2.50" fill="#cdcdcd" stroke="#444" stroke-width="1"/>
<circle cx="264.20" cy="216.32" r="2.50" fill="#cdcdcd" stroke="#444" stroke-width="1"/>
<circle cx="264.20" cy="218.33" r="2.50" fill="#cdcdcd" stroke="#444" stroke-width="1"/>
<circle cx="264.20" cy="220.34" r="2.50" fill="#cdcdcd" stroke="#444" stroke-width="1"/>
<circle cx="264.20" cy="222.36" r="2.50" fill="#cdcdcd" stroke="#444" stroke-width="1"/>
<circle cx="264.20" cy="224.37" r="2.50" fill="#cdcdcd" stroke="#444" stroke-width="1"/>
<circle cx="264.20" cy="226.38" r="2.50" fill="#cdcdcd" stroke="#444" stroke-width="1"/>
<circle cx="264.20" cy="228.39" r="2.50" fill="#cdcdcd" stroke="#444" stroke-width="1"/>
<circle cx="264.20" cy="230.40" r="2.50" fill="#cdcdcd" stroke="#444" stroke-width="1"/>
<path d="M281.20,241.83 L284.35,247.23 L278.05,247.23 Z" fill="#111"/>
<path d="M281.20,250.33 L284.35,255.73 L278.05,255.73 Z" fill="#111"/>
<path d="M281.20,252.73 L284.35,258.13 L278.05,258.13 Z" fill="#111"/>
<line x1="224.10" y1="219.40" x2="236.70" y2="219.40" stroke="#444" stroke-width="1" />
<line x1="240.70" y1="241.10" x2="253.30" y2="241.10" stroke="#444" stroke-width="1" />
<line x1="257.90" y1="222.60" x2="270.50" y2="222.60" stroke="#444" stroke-width="1" />
<line x1="274.90" y1="250.80" x2="287.50" y2="250.80" stroke="#444" stroke-width="1" />
<line x1="247.00" y1="180.50" x2="264.20" y2="180.50" stroke="#111" stroke-width="1" />
<text x="255.60" y="182.00" font-size="9" text-anchor="middle" font-weight="normal" fill="#111" >***</text>
<rect x="353.00" y="179.60" width="67.40" height="29.90" fill="#dedede"/>
<line x1="352.50" y1="179.60" x2="352.50" y2="269.30" stroke="#555" stroke-width="1" />
<line x1="349.50" y1="269.50" x2="420.50" y2="269.50" stroke="#555" stroke-width="1" />
<line x1="349.50" y1="269.50" x2="352.50" y2="269.50" stroke="#555" stroke-width="1" />
<text x="348.40" y="272.70" font-size="9.5" text-anchor="end" font-weight="normal" fill="#222" >0</text>
<line x1="349.50" y1="254.50" x2="352.50" y2="254.50" stroke="#555" stroke-width="1" />
<text x="348.40" y="257.75" font-size="9.5" text-anchor="end" font-weight="normal" fill="#222" >200</text>
<line x1="349.50" y1="239.50" x2="352.50" y2="239.50" stroke="#555" stroke-width="1" />
<text x="348.40" y="242.80" font-size="9.5" text-anchor="end" font-weight="normal" fill="#222" >400</text>
<line x1="349.50" y1="224.50" x2="352.50" y2="224.50" stroke="#555" stroke-width="1" />
<text x="348.40" y="227.85" font-size="9.5" text-anchor="end" font-weight="normal" fill="#222" >600</text>
<line x1="349.50" y1="209.50" x2="352.50" y2="209.50" stroke="#555" stroke-width="1" />
<text x="348.40" y="212.90" font-size="9.5" text-anchor="end" font-weight="normal" fill="#222" >800</text>
<line x1="349.50" y1="194.50" x2="352.50" y2="194.50" stroke="#555" stroke-width="1" />
<text x="348.40" y="197.95" font-size="9.5" text-anchor="end" font-weight="normal" fill="#222" >1,000</text>
<line x1="349.50" y1="179.50" x2="352.50" y2="179.50" stroke="#555" stroke-width="1" />
<text x="348.40" y="183.00" font-size="9.5" text-anchor="end" font-weight="normal" fill="#222" >1,200</text>
<line x1="361.50" y1="269.30" x2="361.50" y2="272.30" stroke="#555" stroke-width="1" />
<line x1="378.50" y1="269.30" x2="378.50" y2="272.30" stroke="#555" stroke-width="1" />
<line x1="395.50" y1="269.30" x2="395.50" y2="272.30" stroke="#555" stroke-width="1" />
<line x1="412.50" y1="269.30" x2="412.50" y2="272.30" stroke="#555" stroke-width="1" />
<text transform="translate(365.10,281.20) rotate(-45)" font-size="9.8" text-anchor="end" fill="#222">C57BL/6</text>
<text transform="translate(382.40,281.20) rotate(-45)" font-size="9.8" text-anchor="end" fill="#222">souris</text>
<text transform="translate(399.10,281.20) rotate(-45)" font-size="9.8" text-anchor="end" fill="#222">beige</text>
<text transform="translate(416.20,281.20) rotate(-45)" font-size="9.8" text-anchor="end" fill="#222">PKO</text>
<text transform="translate(320.90,224.45) rotate(-90)" font-size="9.6" text-anchor="middle" fill="#222">PLT counts [x 10<tspan baseline-shift="super" font-size="6.5">3</tspan>/µl]</text>
<circle cx="361.20" cy="190.40" r="2.70" fill="#111"/>
<circle cx="361.20" cy="191.72" r="2.70" fill="#111"/>
<circle cx="361.20" cy="193.05" r="2.70" fill="#111"/>
<circle cx="361.20" cy="194.37" r="2.70" fill="#111"/>
<circle cx="361.20" cy="195.69" r="2.70" fill="#111"/>
<circle cx="361.20" cy="197.02" r="2.70" fill="#111"/>
<circle cx="361.20" cy="198.34" r="2.70" fill="#111"/>
<circle cx="361.20" cy="199.66" r="2.70" fill="#111"/>
<circle cx="361.20" cy="200.98" r="2.70" fill="#111"/>
<circle cx="361.20" cy="202.31" r="2.70" fill="#111"/>
<circle cx="361.20" cy="203.63" r="2.70" fill="#111"/>
<circle cx="361.20" cy="204.95" r="2.70" fill="#111"/>
<circle cx="361.20" cy="206.28" r="2.70" fill="#111"/>
<circle cx="361.20" cy="207.60" r="2.70" fill="#111"/>
<circle cx="361.20" cy="218.40" r="2.70" fill="#111"/>
<circle cx="361.20" cy="233.50" r="2.70" fill="#111"/>
<circle cx="361.20" cy="235.50" r="2.70" fill="#111"/>
<circle cx="361.20" cy="237.30" r="2.70" fill="#111"/>
<circle cx="378.50" cy="242.80" r="2.50" fill="#fff" stroke="#222" stroke-width="1"/>
<circle cx="378.50" cy="254.00" r="2.50" fill="#fff" stroke="#222" stroke-width="1"/>
<circle cx="395.20" cy="189.70" r="2.50" fill="#cdcdcd" stroke="#444" stroke-width="1"/>
<circle cx="395.20" cy="194.10" r="2.50" fill="#cdcdcd" stroke="#444" stroke-width="1"/>
<circle cx="395.20" cy="198.60" r="2.50" fill="#cdcdcd" stroke="#444" stroke-width="1"/>
<circle cx="395.20" cy="203.90" r="2.50" fill="#cdcdcd" stroke="#444" stroke-width="1"/>
<circle cx="395.20" cy="210.70" r="2.50" fill="#cdcdcd" stroke="#444" stroke-width="1"/>
<circle cx="395.20" cy="212.60" r="2.50" fill="#cdcdcd" stroke="#444" stroke-width="1"/>
<circle cx="395.20" cy="225.60" r="2.50" fill="#cdcdcd" stroke="#444" stroke-width="1"/>
<circle cx="395.20" cy="233.70" r="2.50" fill="#cdcdcd" stroke="#444" stroke-width="1"/>
<circle cx="395.20" cy="236.20" r="2.50" fill="#cdcdcd" stroke="#444" stroke-width="1"/>
<path d="M412.30,237.93 L415.45,243.33 L409.15,243.33 Z" fill="#111"/>
<path d="M412.30,244.53 L415.45,249.93 L409.15,249.93 Z" fill="#111"/>
<path d="M412.30,248.93 L415.45,254.33 L409.15,254.33 Z" fill="#111"/>
<path d="M412.30,255.63 L415.45,261.03 L409.15,261.03 Z" fill="#111"/>
<path d="M412.30,261.63 L415.45,267.03 L409.15,267.03 Z" fill="#111"/>
<line x1="354.90" y1="206.50" x2="367.50" y2="206.50" stroke="#444" stroke-width="1" />
<line x1="372.20" y1="250.50" x2="384.80" y2="250.50" stroke="#444" stroke-width="1" />
<line x1="388.90" y1="209.40" x2="401.50" y2="209.40" stroke="#444" stroke-width="1" />
<line x1="406.00" y1="251.30" x2="418.60" y2="251.30" stroke="#444" stroke-width="1" />
<line x1="378.50" y1="180.50" x2="395.20" y2="180.50" stroke="#111" stroke-width="1" />
<text x="386.85" y="182.10" font-size="9" text-anchor="middle" font-weight="normal" fill="#111" >***</text>
<text transform="translate(3.00,329.20) scale(0.96,1)" font-size="14.3" font-weight="bold" fill="#000">D</text>
<line x1="50.50" y1="340.60" x2="50.50" y2="430.80" stroke="#555" stroke-width="1" />
<line x1="47.50" y1="430.50" x2="118.50" y2="430.50" stroke="#555" stroke-width="1" />
<line x1="47.50" y1="430.50" x2="50.50" y2="430.50" stroke="#555" stroke-width="1" />
<text x="46.40" y="434.20" font-size="9.5" text-anchor="end" font-weight="normal" fill="#222" >0</text>
<line x1="47.50" y1="408.50" x2="50.50" y2="408.50" stroke="#555" stroke-width="1" />
<text x="46.40" y="411.65" font-size="9.5" text-anchor="end" font-weight="normal" fill="#222" >500</text>
<line x1="47.50" y1="385.50" x2="50.50" y2="385.50" stroke="#555" stroke-width="1" />
<text x="46.40" y="389.10" font-size="9.5" text-anchor="end" font-weight="normal" fill="#222" >1,000</text>
<line x1="47.50" y1="363.50" x2="50.50" y2="363.50" stroke="#555" stroke-width="1" />
<text x="46.40" y="366.55" font-size="9.5" text-anchor="end" font-weight="normal" fill="#222" >1,500</text>
<line x1="47.50" y1="340.50" x2="50.50" y2="340.50" stroke="#555" stroke-width="1" />
<text x="46.40" y="344.00" font-size="9.5" text-anchor="end" font-weight="normal" fill="#222" >2,000</text>
<line x1="58.50" y1="430.80" x2="58.50" y2="433.80" stroke="#555" stroke-width="1" />
<line x1="75.50" y1="430.80" x2="75.50" y2="433.80" stroke="#555" stroke-width="1" />
<line x1="92.50" y1="430.80" x2="92.50" y2="433.80" stroke="#555" stroke-width="1" />
<line x1="109.50" y1="430.80" x2="109.50" y2="433.80" stroke="#555" stroke-width="1" />
<text transform="translate(62.80,442.70) rotate(-45)" font-size="9.8" text-anchor="end" fill="#222">C57BL/6</text>
<text transform="translate(79.50,442.70) rotate(-45)" font-size="9.8" text-anchor="end" fill="#222">souris</text>
<text transform="translate(96.30,442.70) rotate(-45)" font-size="9.8" text-anchor="end" fill="#222">beige</text>
<text transform="translate(113.40,442.70) rotate(-45)" font-size="9.8" text-anchor="end" fill="#222">PKO</text>
<text transform="translate(20.70,385.70) rotate(-90)" font-size="9.6" text-anchor="middle" fill="#222">ferritin [ng/ml]</text>
<circle cx="58.90" cy="396.40" r="2.70" fill="#111"/>
<circle cx="58.90" cy="411.00" r="2.70" fill="#111"/>
<circle cx="58.90" cy="412.80" r="2.70" fill="#111"/>
<circle cx="58.90" cy="414.60" r="2.70" fill="#111"/>
<circle cx="58.90" cy="416.40" r="2.70" fill="#111"/>
<circle cx="58.90" cy="418.20" r="2.70" fill="#111"/>
<circle cx="75.60" cy="380.00" r="2.50" fill="#fff" stroke="#222" stroke-width="1"/>
<circle cx="75.60" cy="382.60" r="2.50" fill="#fff" stroke="#222" stroke-width="1"/>
<circle cx="75.60" cy="384.20" r="2.50" fill="#fff" stroke="#222" stroke-width="1"/>
<circle cx="75.60" cy="397.70" r="2.50" fill="#fff" stroke="#222" stroke-width="1"/>
<circle cx="92.40" cy="401.70" r="2.50" fill="#cdcdcd" stroke="#444" stroke-width="1"/>
<circle cx="92.40" cy="404.40" r="2.50" fill="#cdcdcd" stroke="#444" stroke-width="1"/>
<circle cx="92.40" cy="407.00" r="2.50" fill="#cdcdcd" stroke="#444" stroke-width="1"/>
<circle cx="92.40" cy="409.70" r="2.50" fill="#cdcdcd" stroke="#444" stroke-width="1"/>
<circle cx="92.40" cy="412.90" r="2.50" fill="#cdcdcd" stroke="#444" stroke-width="1"/>
<circle cx="92.40" cy="415.50" r="2.50" fill="#cdcdcd" stroke="#444" stroke-width="1"/>
<line x1="52.60" y1="412.60" x2="65.20" y2="412.60" stroke="#444" stroke-width="1" />
<line x1="69.30" y1="385.60" x2="81.90" y2="385.60" stroke="#444" stroke-width="1" />
<line x1="86.10" y1="408.60" x2="98.70" y2="408.60" stroke="#444" stroke-width="1" />
<line x1="75.60" y1="342.50" x2="92.40" y2="342.50" stroke="#111" stroke-width="1" />
<text x="84.00" y="343.80" font-size="9" text-anchor="middle" font-weight="normal" fill="#111" >***</text>
<path d="M106.8,336.6 L110.45,342.4 L103.15,342.4 Z" fill="#111"/>
<text x="107.30" y="348.70" font-size="6.5" text-anchor="middle" font-weight="normal" fill="#222" >4922 -7236</text>
<text transform="translate(143.20,329.20) scale(0.96,1)" font-size="14.3" font-weight="bold" fill="#000">E</text>
<line x1="182.50" y1="341.30" x2="182.50" y2="431.50" stroke="#555" stroke-width="1" />
<line x1="179.50" y1="431.50" x2="250.00" y2="431.50" stroke="#555" stroke-width="1" />
<line x1="179.50" y1="431.50" x2="182.50" y2="431.50" stroke="#555" stroke-width="1" />
<text x="178.40" y="434.90" font-size="9.5" text-anchor="end" font-weight="normal" fill="#222" >0</text>
<line x1="179.50" y1="408.50" x2="182.50" y2="408.50" stroke="#555" stroke-width="1" />
<text x="178.40" y="412.35" font-size="9.5" text-anchor="end" font-weight="normal" fill="#222" >250</text>
<line x1="179.50" y1="386.50" x2="182.50" y2="386.50" stroke="#555" stroke-width="1" />
<text x="178.40" y="389.80" font-size="9.5" text-anchor="end" font-weight="normal" fill="#222" >500</text>
<line x1="179.50" y1="363.50" x2="182.50" y2="363.50" stroke="#555" stroke-width="1" />
<text x="178.40" y="367.25" font-size="9.5" text-anchor="end" font-weight="normal" fill="#222" >750</text>
<line x1="179.50" y1="341.50" x2="182.50" y2="341.50" stroke="#555" stroke-width="1" />
<text x="178.40" y="344.70" font-size="9.5" text-anchor="end" font-weight="normal" fill="#222" >1,000</text>
<line x1="190.50" y1="431.50" x2="190.50" y2="434.50" stroke="#555" stroke-width="1" />
<line x1="207.50" y1="431.50" x2="207.50" y2="434.50" stroke="#555" stroke-width="1" />
<line x1="223.50" y1="431.50" x2="223.50" y2="434.50" stroke="#555" stroke-width="1" />
<line x1="241.50" y1="431.50" x2="241.50" y2="434.50" stroke="#555" stroke-width="1" />
<text transform="translate(194.30,443.40) rotate(-45)" font-size="9.8" text-anchor="end" fill="#222">C57BL/6</text>
<text transform="translate(211.40,443.40) rotate(-45)" font-size="9.8" text-anchor="end" fill="#222">souris</text>
<text transform="translate(227.70,443.40) rotate(-45)" font-size="9.8" text-anchor="end" fill="#222">beige</text>
<text transform="translate(244.90,443.40) rotate(-45)" font-size="9.8" text-anchor="end" fill="#222">PKO</text>
<text transform="translate(152.50,386.40) rotate(-90)" font-size="9.6" text-anchor="middle" fill="#222">sCD25 [pg/ml]</text>
<circle cx="190.40" cy="386.00" r="2.70" fill="#111"/>
<circle cx="190.40" cy="388.70" r="2.70" fill="#111"/>
<circle cx="190.40" cy="396.80" r="2.70" fill="#111"/>
<circle cx="190.40" cy="403.10" r="2.70" fill="#111"/>
<circle cx="190.40" cy="405.80" r="2.70" fill="#111"/>
<circle cx="190.40" cy="408.50" r="2.70" fill="#111"/>
<circle cx="190.40" cy="410.70" r="2.70" fill="#111"/>
<circle cx="190.40" cy="419.00" r="2.70" fill="#111"/>
<circle cx="207.50" cy="355.30" r="2.50" fill="#fff" stroke="#222" stroke-width="1"/>
<circle cx="207.50" cy="364.40" r="2.50" fill="#fff" stroke="#222" stroke-width="1"/>
<circle cx="207.50" cy="365.50" r="2.50" fill="#fff" stroke="#222" stroke-width="1"/>
<circle cx="207.50" cy="378.80" r="2.50" fill="#fff" stroke="#222" stroke-width="1"/>
<circle cx="207.50" cy="386.00" r="2.50" fill="#fff" stroke="#222" stroke-width="1"/>
<circle cx="207.50" cy="395.00" r="2.50" fill="#fff" stroke="#222" stroke-width="1"/>
<circle cx="223.80" cy="395.60" r="2.50" fill="#cdcdcd" stroke="#444" stroke-width="1"/>
<circle cx="223.80" cy="402.20" r="2.50" fill="#cdcdcd" stroke="#444" stroke-width="1"/>
<circle cx="223.80" cy="405.80" r="2.50" fill="#cdcdcd" stroke="#444" stroke-width="1"/>
<circle cx="223.80" cy="408.20" r="2.50" fill="#cdcdcd" stroke="#444" stroke-width="1"/>
<circle cx="223.80" cy="410.00" r="2.50" fill="#cdcdcd" stroke="#444" stroke-width="1"/>
<path d="M241.00,341.93 L244.15,347.33 L237.85,347.33 Z" fill="#111"/>
<path d="M241.00,345.53 L244.15,350.93 L237.85,350.93 Z" fill="#111"/>
<path d="M241.00,350.93 L244.15,356.33 L237.85,356.33 Z" fill="#111"/>
<path d="M241.00,364.13 L244.15,369.53 L237.85,369.53 Z" fill="#111"/>
<line x1="184.10" y1="403.10" x2="196.70" y2="403.10" stroke="#444" stroke-width="1" />
<line x1="201.20" y1="374.30" x2="213.80" y2="374.30" stroke="#444" stroke-width="1" />
<line x1="217.50" y1="405.30" x2="230.10" y2="405.30" stroke="#444" stroke-width="1" />
<line x1="234.70" y1="353.00" x2="247.30" y2="353.00" stroke="#444" stroke-width="1" />
<line x1="207.50" y1="342.50" x2="223.80" y2="342.50" stroke="#111" stroke-width="1" />
<text x="215.65" y="343.80" font-size="9" text-anchor="middle" font-weight="normal" fill="#111" >***</text>
<text transform="translate(282.00,329.20) scale(0.96,1)" font-size="14.3" font-weight="bold" fill="#000">F</text>
<line x1="316.50" y1="340.60" x2="316.50" y2="430.80" stroke="#555" stroke-width="1" />
<line x1="313.40" y1="430.50" x2="384.50" y2="430.50" stroke="#555" stroke-width="1" />
<line x1="313.40" y1="430.50" x2="316.40" y2="430.50" stroke="#555" stroke-width="1" />
<text x="312.30" y="434.20" font-size="9.5" text-anchor="end" font-weight="normal" fill="#222" >0</text>
<line x1="313.40" y1="408.50" x2="316.40" y2="408.50" stroke="#555" stroke-width="1" />
<text x="312.30" y="411.65" font-size="9.5" text-anchor="end" font-weight="normal" fill="#222" >10</text>
<line x1="313.40" y1="385.50" x2="316.40" y2="385.50" stroke="#555" stroke-width="1" />
<text x="312.30" y="389.10" font-size="9.5" text-anchor="end" font-weight="normal" fill="#222" >20</text>
<line x1="313.40" y1="363.50" x2="316.40" y2="363.50" stroke="#555" stroke-width="1" />
<text x="312.30" y="366.55" font-size="9.5" text-anchor="end" font-weight="normal" fill="#222" >30</text>
<line x1="313.40" y1="340.50" x2="316.40" y2="340.50" stroke="#555" stroke-width="1" />
<text x="312.30" y="344.00" font-size="9.5" text-anchor="end" font-weight="normal" fill="#222" >40</text>
<line x1="325.50" y1="430.80" x2="325.50" y2="433.80" stroke="#555" stroke-width="1" />
<line x1="341.50" y1="430.80" x2="341.50" y2="433.80" stroke="#555" stroke-width="1" />
<line x1="358.50" y1="430.80" x2="358.50" y2="433.80" stroke="#555" stroke-width="1" />
<line x1="375.50" y1="430.80" x2="375.50" y2="433.80" stroke="#555" stroke-width="1" />
<text transform="translate(329.10,442.70) rotate(-45)" font-size="9.8" text-anchor="end" fill="#222">C57BL/6</text>
<text transform="translate(345.40,442.70) rotate(-45)" font-size="9.8" text-anchor="end" fill="#222">souris</text>
<text transform="translate(362.40,442.70) rotate(-45)" font-size="9.8" text-anchor="end" fill="#222">beige</text>
<text transform="translate(379.00,442.70) rotate(-45)" font-size="9.8" text-anchor="end" fill="#222">PKO</text>
<text transform="translate(286.70,385.70) rotate(-90)" font-size="9.6" text-anchor="middle" fill="#222">IFN-γ [ng/ml]</text>
<circle cx="320.20" cy="428.40" r="2.70" fill="#111"/>
<circle cx="322.00" cy="428.40" r="2.70" fill="#111"/>
<circle cx="323.80" cy="428.40" r="2.70" fill="#111"/>
<circle cx="325.60" cy="428.40" r="2.70" fill="#111"/>
<circle cx="327.40" cy="428.40" r="2.70" fill="#111"/>
<circle cx="329.20" cy="428.40" r="2.70" fill="#111"/>
<circle cx="341.50" cy="362.60" r="2.50" fill="#fff" stroke="#222" stroke-width="1"/>
<circle cx="341.50" cy="367.70" r="2.50" fill="#fff" stroke="#222" stroke-width="1"/>
<circle cx="341.50" cy="371.10" r="2.50" fill="#fff" stroke="#222" stroke-width="1"/>
<circle cx="341.50" cy="374.50" r="2.50" fill="#fff" stroke="#222" stroke-width="1"/>
<circle cx="341.50" cy="384.70" r="2.50" fill="#fff" stroke="#222" stroke-width="1"/>
<circle cx="341.50" cy="401.70" r="2.50" fill="#fff" stroke="#222" stroke-width="1"/>
<circle cx="354.30" cy="428.40" r="2.50" fill="#cdcdcd" stroke="#444" stroke-width="1"/>
<circle cx="356.50" cy="428.40" r="2.50" fill="#cdcdcd" stroke="#444" stroke-width="1"/>
<circle cx="363.00" cy="428.40" r="2.50" fill="#cdcdcd" stroke="#444" stroke-width="1"/>
<circle cx="360.70" cy="428.40" r="2.50" fill="#cdcdcd" stroke="#444" stroke-width="1"/>
<path d="M375.10,370.23 L378.25,375.63 L371.95,375.63 Z" fill="#111"/>
<path d="M375.10,386.03 L378.25,391.43 L371.95,391.43 Z" fill="#111"/>
<path d="M375.10,402.53 L378.25,407.93 L371.95,407.93 Z" fill="#111"/>
<path d="M375.10,405.43 L378.25,410.83 L371.95,410.83 Z" fill="#111"/>
<path d="M375.10,411.93 L378.25,417.33 L371.95,417.33 Z" fill="#111"/>
<line x1="318.90" y1="428.40" x2="331.50" y2="428.40" stroke="#444" stroke-width="1" />
<line x1="335.20" y1="377.40" x2="347.80" y2="377.40" stroke="#444" stroke-width="1" />
<line x1="352.20" y1="428.40" x2="364.80" y2="428.40" stroke="#444" stroke-width="1" />
<line x1="368.80" y1="401.20" x2="381.40" y2="401.20" stroke="#444" stroke-width="1" />
<line x1="341.50" y1="342.50" x2="358.50" y2="342.50" stroke="#111" stroke-width="1" />
<text x="350.00" y="343.80" font-size="9" text-anchor="middle" font-weight="normal" fill="#111" >***</text>
<circle cx="358.00" cy="428.40" r="2.50" fill="#fff" stroke="#222" stroke-width="1"/>
<text transform="translate(417.50,329.20) scale(0.96,1)" font-size="14.3" font-weight="bold" fill="#000">G</text>
<line x1="449.50" y1="340.60" x2="449.50" y2="430.80" stroke="#555" stroke-width="1" />
<line x1="446.60" y1="430.50" x2="517.00" y2="430.50" stroke="#555" stroke-width="1" />
<line x1="446.60" y1="430.50" x2="449.60" y2="430.50" stroke="#555" stroke-width="1" />
<text x="445.50" y="434.20" font-size="9.5" text-anchor="end" font-weight="normal" fill="#222" >0</text>
<line x1="446.60" y1="408.50" x2="449.60" y2="408.50" stroke="#555" stroke-width="1" />
<text x="445.50" y="411.65" font-size="9.5" text-anchor="end" font-weight="normal" fill="#222" >50</text>
<line x1="446.60" y1="385.50" x2="449.60" y2="385.50" stroke="#555" stroke-width="1" />
<text x="445.50" y="389.10" font-size="9.5" text-anchor="end" font-weight="normal" fill="#222" >100</text>
<line x1="446.60" y1="363.50" x2="449.60" y2="363.50" stroke="#555" stroke-width="1" />
<text x="445.50" y="366.55" font-size="9.5" text-anchor="end" font-weight="normal" fill="#222" >150</text>
<line x1="446.60" y1="340.50" x2="449.60" y2="340.50" stroke="#555" stroke-width="1" />
<text x="445.50" y="344.00" font-size="9.5" text-anchor="end" font-weight="normal" fill="#222" >200</text>
<line x1="457.50" y1="430.80" x2="457.50" y2="433.80" stroke="#555" stroke-width="1" />
<line x1="474.50" y1="430.80" x2="474.50" y2="433.80" stroke="#555" stroke-width="1" />
<line x1="491.50" y1="430.80" x2="491.50" y2="433.80" stroke="#555" stroke-width="1" />
<line x1="508.50" y1="430.80" x2="508.50" y2="433.80" stroke="#555" stroke-width="1" />
<text transform="translate(461.00,442.70) rotate(-45)" font-size="9.8" text-anchor="end" fill="#222">C57BL/6</text>
<text transform="translate(478.20,442.70) rotate(-45)" font-size="9.8" text-anchor="end" fill="#222">souris</text>
<text transform="translate(495.20,442.70) rotate(-45)" font-size="9.8" text-anchor="end" fill="#222">beige</text>
<text transform="translate(512.20,442.70) rotate(-45)" font-size="9.8" text-anchor="end" fill="#222">PKO</text>
<text transform="translate(419.80,385.70) rotate(-90)" font-size="9.6" text-anchor="middle" fill="#222">triglycerides [mg/dl]</text>
<circle cx="457.10" cy="393.70" r="2.70" fill="#111"/>
<circle cx="457.10" cy="395.56" r="2.70" fill="#111"/>
<circle cx="457.10" cy="397.41" r="2.70" fill="#111"/>
<circle cx="457.10" cy="399.27" r="2.70" fill="#111"/>
<circle cx="457.10" cy="401.12" r="2.70" fill="#111"/>
<circle cx="457.10" cy="402.98" r="2.70" fill="#111"/>
<circle cx="457.10" cy="404.83" r="2.70" fill="#111"/>
<circle cx="457.10" cy="406.69" r="2.70" fill="#111"/>
<circle cx="457.10" cy="408.54" r="2.70" fill="#111"/>
<circle cx="457.10" cy="410.40" r="2.70" fill="#111"/>
<circle cx="474.30" cy="373.50" r="2.50" fill="#fff" stroke="#222" stroke-width="1"/>
<circle cx="474.30" cy="374.90" r="2.50" fill="#fff" stroke="#222" stroke-width="1"/>
<circle cx="474.30" cy="391.30" r="2.50" fill="#fff" stroke="#222" stroke-width="1"/>
<circle cx="474.30" cy="402.10" r="2.50" fill="#fff" stroke="#222" stroke-width="1"/>
<circle cx="474.30" cy="406.60" r="2.50" fill="#fff" stroke="#222" stroke-width="1"/>
<circle cx="474.30" cy="410.60" r="2.50" fill="#fff" stroke="#222" stroke-width="1"/>
<circle cx="491.30" cy="367.20" r="2.50" fill="#cdcdcd" stroke="#444" stroke-width="1"/>
<circle cx="491.30" cy="390.20" r="2.50" fill="#cdcdcd" stroke="#444" stroke-width="1"/>
<circle cx="491.30" cy="394.40" r="2.50" fill="#cdcdcd" stroke="#444" stroke-width="1"/>
<circle cx="491.30" cy="399.50" r="2.50" fill="#cdcdcd" stroke="#444" stroke-width="1"/>
<circle cx="491.30" cy="402.90" r="2.50" fill="#cdcdcd" stroke="#444" stroke-width="1"/>
<circle cx="491.30" cy="406.30" r="2.50" fill="#cdcdcd" stroke="#444" stroke-width="1"/>
<path d="M508.30,344.23 L511.45,349.63 L505.15,349.63 Z" fill="#111"/>
<path d="M508.30,388.43 L511.45,393.83 L505.15,393.83 Z" fill="#111"/>
<path d="M508.30,397.83 L511.45,403.23 L505.15,403.23 Z" fill="#111"/>
<path d="M508.30,407.43 L511.45,412.83 L505.15,412.83 Z" fill="#111"/>
<line x1="450.80" y1="401.20" x2="463.40" y2="401.20" stroke="#333" stroke-width="1" />
<line x1="468.00" y1="393.60" x2="480.60" y2="393.60" stroke="#333" stroke-width="1" />
<line x1="485.00" y1="396.40" x2="497.60" y2="396.40" stroke="#333" stroke-width="1" />
<line x1="502.00" y1="386.40" x2="514.60" y2="386.40" stroke="#888" stroke-width="1" />
<line x1="474.30" y1="342.50" x2="491.30" y2="342.50" stroke="#111" stroke-width="1" />
<text x="483.10" y="340.00" font-size="7.2" text-anchor="middle" font-weight="normal" fill="#222" >n.s.</text>
</g>
</svg></body></html>
